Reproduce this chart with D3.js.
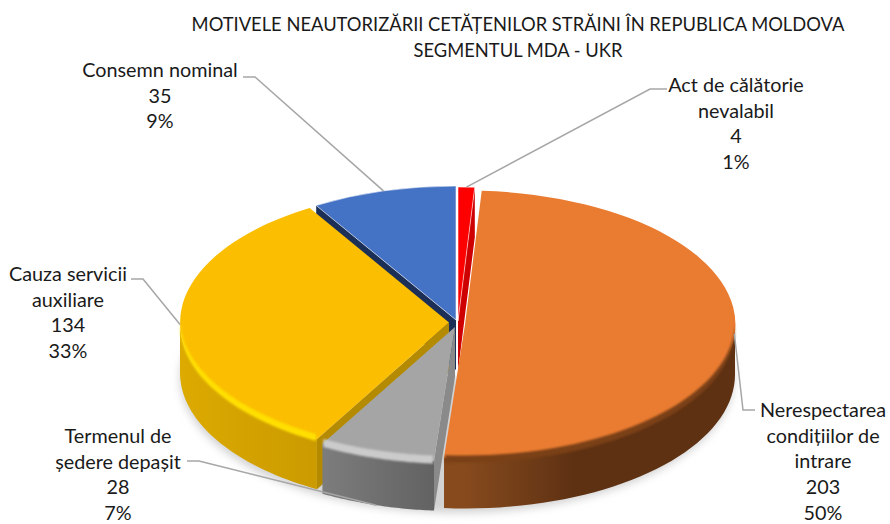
<!DOCTYPE html>
<html><head><meta charset="utf-8">
<script src="https://cdn.jsdelivr.net/npm/d3@7/dist/d3.min.js"></script>
<style>html,body{margin:0;padding:0;background:#fff}svg{display:block}text{font-family:Lato,"Noto Sans",sans-serif;fill:#1a1a1a}</style>
</head><body><div id="c"></div>
<script>
const categories=["Act de călătorie nevalabil","Nerespectarea condițiilor de intrare","Termenul de ședere depașit","Cauza servicii auxiliare","Consemn nominal"];
const values=[4,203,28,134,35];
const percents=["1%","50%","7%","33%","9%"];
const labelLines=[["Act de călătorie","nevalabil"],["Nerespectarea","condițiilor de","intrare"],["Termenul de","ședere depașit"],["Cauza servicii","auxiliare"],["Consemn nominal"]];
const titleLines=["MOTIVELE NEAUTORIZĂRII CETĂȚENILOR STRĂINI ÎN REPUBLICA MOLDOVA","SEGMENTUL MDA - UKR"];

const W=890,H=524,ry=134,depth=50,fs=19.8,tfs=18.35,lh=25.7;
const geo=[
 {cx:458,cy:321,rx:270,top:"#ff0000",wall:["#c00000","#c00000"],cut:"#cf0000",bevel:"#ff0000",band:[0,0]},
 {cx:465,cy:324.5,rx:270,top:"#ea7c32",wall:["#864a1d","#5e3113"],cut:"#5e3113",bevel:"#7a4018",band:[-3,4]},
 {cx:455,cy:327,rx:270,top:"#a5a5a5",wall:["#7c7c7c","#626262"],cut:"#8a8a8a",bevel:"#cbcbcb",band:[-5,3]},
 {cx:449,cy:322.5,rx:269,top:"#fbbe00",wall:["#dcaa00","#bf9000"],cut:"#b48a00",bevel:"#ffdf00",band:[-5,2]},
 {cx:456,cy:320,rx:270,top:"#4472c4",wall:["#2f5597","#2f5597"],cut:"#1c2f57",bevel:"#4472c4",band:[0,0]}
];
const labelPos=[
 {x:736,y:92,elbow:[[650,89],[667,89]],dy:0},
 {x:823,y:417,elbow:[[743,410],[755,410]],dy:0},
 {x:118,y:443,elbow:[[199,461],[187,461]],dy:depth},
 {x:68,y:281,elbow:[[143,279],[131,279]],dy:0},
 {x:160,y:77,elbow:[[255,77],[243,77]],dy:0}
];

const pie=d3.pie().sort(null).value(d=>d);
const arcs=pie(values);
const svg=d3.select("#c").append("svg").attr("width",W).attr("height",H);
const defs=svg.append("defs");
defs.append("filter").attr("id","sh").attr("x","-10%").attr("y","-10%").attr("width","120%").attr("height","130%")
 .append("feGaussianBlur").attr("stdDeviation",4);
defs.append("filter").attr("id","bl").attr("x","-5%").attr("y","-5%").attr("width","110%").attr("height","110%")
 .append("feGaussianBlur").attr("stdDeviation",1.2);

const pt=(g,a,dy=0)=>[g.cx+Math.sin(a)*g.rx, g.cy-Math.cos(a)*ry+dy];
const line=d3.line();
function rimPath(g,a0,a1,d0,d1){
  const th=d3.range(0,41).map(i=>a0+(a1-a0)*i/40);
  return line(th.map(a=>pt(g,a,d0)).concat(th.slice().reverse().map(a=>pt(g,a,d1))))+"Z";
}
const sh=svg.append("g").attr("filter","url(#sh)");
sh.append("path").attr("fill","#d2d2d2")
  .attr("d",d3.arc().innerRadius(0).outerRadius(1).startAngle(Math.PI*0.4).endAngle(Math.PI*1.6)())
  .attr("transform",`translate(457,${323+depth+5}) scale(277,${ry+1})`);

const chart=svg.append("g");
const unitArc=d3.arc().innerRadius(0).outerRadius(1);
[4,0,3,2,1].forEach(i=>{
  const d=arcs[i],g=geo[i],a0=d.startAngle,a1=d.endAngle;
  const id="w"+i;
  const gr=defs.append("linearGradient").attr("id",id).attr("gradientUnits","userSpaceOnUse").attr("y1",0).attr("y2",0)
    .attr("x1",i===3?g.cx-g.rx:(i===2?g.cx-130:g.cx)).attr("x2",i===3?g.cx-40:(i===2?g.cx-20:g.cx+110));
  gr.append("stop").attr("offset",0).attr("stop-color",g.wall[0]);
  gr.append("stop").attr("offset",1).attr("stop-color",g.wall[1]);
  const s=chart.append("g");
  // only the cut faces that turn toward the viewer are drawn
  const walls=[];
  if(Math.sin(a0)<-1e-6) walls.push(a0);
  if(Math.sin(a1)>1e-6) walls.push(a1);
  walls.forEach(a=>{
    const p=pt(g,a);
    s.append("path").attr("fill",g.cut)
      .attr("d",line([[g.cx,g.cy],p,[p[0],p[1]+depth],[g.cx,g.cy+depth]])+"Z");
  });
  const fa=Math.max(a0,Math.PI/2), fb=Math.min(a1,Math.PI*1.5);
  const hasRim=fb>fa;
  if(hasRim) s.append("path").attr("fill",`url(#${id})`).attr("d",rimPath(g,fa,fb,0,depth));
  s.append("path").attr("fill",g.top)
    .attr("d",unitArc(d))
    .attr("transform",`translate(${g.cx},${g.cy}) scale(${g.rx},${ry})`);
  if(hasRim&&g.band[1]>g.band[0]){
    s.append("path").attr("fill",g.bevel).attr("filter","url(#bl)").attr("d",rimPath(g,fa+.004,fb-.004,g.band[0],g.band[1]));
  }
  if(i===0||i===4){
    s.append("path").attr("fill","none").attr("stroke","#fff").attr("stroke-opacity",.55).attr("stroke-width",1)
     .attr("d",unitArc(d)).attr("vector-effect","non-scaling-stroke")
     .attr("transform",`translate(${g.cx},${g.cy}) scale(${g.rx},${ry})`);
  }
});

const leaders=svg.append("g").attr("fill","none").attr("stroke","#a6a6a6").attr("stroke-width",1.5);
arcs.forEach((d,i)=>{
  const mid=(d.startAngle+d.endAngle)/2, g=geo[i], L=labelPos[i];
  leaders.append("path").attr("d",line([pt(g,mid,L.dy)].concat(L.elbow)));
});

const lab=svg.append("g").attr("text-anchor","middle").attr("font-size",fs);
arcs.forEach((d,i)=>{
  const L=labelPos[i];
  labelLines[i].concat([String(values[i]),percents[i]]).forEach((t,k)=>
    lab.append("text").attr("x",L.x).attr("y",L.y+k*lh).text(t));
});
const ttl=svg.append("g").attr("text-anchor","middle").attr("font-size",tfs);
titleLines.forEach((t,k)=>ttl.append("text").attr("x",518).attr("y",31+k*26).text(t));
</script></body></html>
